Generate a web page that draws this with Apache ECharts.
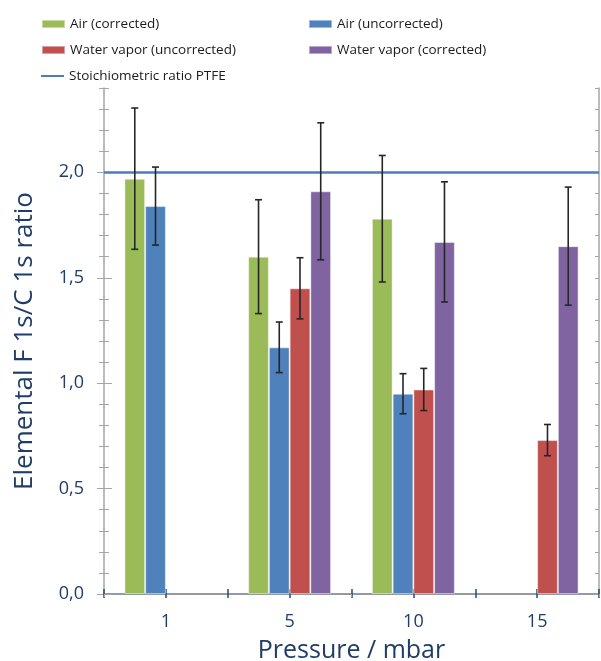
<!DOCTYPE html>
<html>
<head>
<meta charset="utf-8">
<script src="https://cdn.jsdelivr.net/npm/echarts@6/dist/echarts.min.js"></script>
<style>
  html, body { margin: 0; padding: 0; background: #ffffff; }
  #chart { width: 601px; height: 661px; }
</style>
</head>
<body>
<div id="chart"></div>
<script>
// Pressure categories (mbar)
const categories = ['1', '5', '10', '15'];

// F 1s / C 1s ratios and their error half-widths
const airCorrected        = [1.97, 1.60, 1.78, null];
const airCorrectedErr     = [0.335, 0.27, 0.30, null];
const airUncorrected      = [1.84, 1.17, 0.95, null];
const airUncorrectedErr   = [0.185, 0.12, 0.095, null];
const waterUncorrected    = [null, 1.45, 0.97, 0.73];
const waterUncorrectedErr = [null, 0.145, 0.10, 0.074];
const waterCorrected      = [null, 1.91, 1.67, 1.65];
const waterCorrectedErr   = [null, 0.325, 0.285, 0.28];

// Reference value for PTFE (CF2)
const stoichRatio = 2.0;

// Y-axis labelled ticks
const yLabelTicks = [0, 0.5, 1.0, 1.5, 2.0];

const seriesNames = ['Air (corrected)', 'Air (uncorrected)', 'Water vapor (uncorrected)', 'Water vapor (corrected)'];
const lineName = 'Stoichiometric ratio PTFE';
const seriesValues = [airCorrected, airUncorrected, waterUncorrected, waterCorrected];
const seriesErrors = [airCorrectedErr, airUncorrectedErr, waterUncorrectedErr, waterCorrectedErr];
const colors = ['#9bbb59', '#4f81bd', '#c0504d', '#8064a2'];

const textBlue = '#1f3d66';
const font = '"Open Sans", "Noto Sans", sans-serif';
const barCategoryGap = 0.33;

// Error bar records: [category index, series index, value, error]
const errorData = [];
seriesValues.forEach((vals, s) => {
  vals.forEach((v, i) => {
    if (v != null && seriesErrors[s][i] != null) errorData.push([i, s, v, seriesErrors[s][i]]);
  });
});

const chart = echarts.init(document.getElementById('chart'), null, { renderer: 'canvas' });

const legendItem = (name, left, top, itemHeight) => ({
  left: left, top: top, orient: 'horizontal',
  data: [{ name: name, icon: 'rect' }],
  itemWidth: 23, itemHeight: itemHeight, selectedMode: false,
  textStyle: { fontFamily: font, fontSize: 13.5, color: '#1a1a1a' }
});

const option = {
  animation: false,
  backgroundColor: '#ffffff',
  legend: [
    legendItem(seriesNames[0], 36, 12, 8),
    legendItem(seriesNames[1], 303, 12, 8),
    legendItem(seriesNames[2], 36, 38, 8),
    legendItem(seriesNames[3], 303, 38, 8),
    legendItem(lineName, 36, 64, 2)
  ],
  grid: { left: 104, right: 2, top: 88, bottom: 67, containLabel: false,
          outerBoundsMode: 'none', show: false },
  xAxis: [
    {
      type: 'category', data: categories, position: 'bottom',
      axisLine: { show: true, lineStyle: { color: '#1f4e79', width: 1.5 } },
      axisTick: { show: false },
      axisLabel: { color: textBlue, fontFamily: font, fontSize: 18, margin: 19 },
      name: 'Pressure / mbar', nameLocation: 'middle', nameGap: 44,
      nameTextStyle: { color: textBlue, fontFamily: font, fontSize: 25 }
    },
    // half-category ticks crossing the bottom axis
    {
      type: 'category', data: ['', '', '', '', '', '', '', ''], position: 'bottom',
      axisLine: { show: false }, axisLabel: { show: false },
      axisTick: { show: true, length: 4, lineStyle: { color: '#1f4e79', width: 1.5 } }
    },
    {
      type: 'category', data: ['', '', '', '', '', '', '', ''], position: 'bottom',
      axisLine: { show: false }, axisLabel: { show: false },
      axisTick: { show: true, inside: true, length: 5, lineStyle: { color: '#1f4e79', width: 1.5 } }
    },
    // top frame
    {
      type: 'category', data: ['', ''], position: 'top',
      axisLine: { show: true, lineStyle: { color: '#a6a6a6', width: 1.5 } },
      axisLabel: { show: false },
      axisTick: { show: true, inside: true, length: 3, lineStyle: { color: '#a6a6a6' } }
    }
  ],
  yAxis: [
    {
      type: 'value', min: 0, max: 2.4, interval: 0.1, position: 'left',
      splitLine: { show: false },
      axisLine: { show: true, lineStyle: { color: '#a6a6a6', width: 1.5 } },
      axisTick: { show: true, length: 5, lineStyle: { color: '#a6a6a6', width: 1 } },
      axisLabel: {
        customValues: yLabelTicks,
        color: textBlue, fontFamily: font, fontSize: 18, margin: 20,
        formatter: v => v.toFixed(1).replace('.', ',')
      },
      name: 'Elemental F 1s/C 1s ratio', nameLocation: 'middle', nameGap: 66,
      nameTextStyle: { color: textBlue, fontFamily: font, fontSize: 26 }
    },
    {
      type: 'value', min: 0, max: 2.4, interval: 0.1, position: 'left',
      splitLine: { show: false }, axisLine: { show: false }, axisLabel: { show: false },
      axisTick: { show: true, inside: true, length: 5, lineStyle: { color: '#a6a6a6', width: 1 } }
    },
    {
      type: 'value', min: 0, max: 2.4, interval: 0.1, position: 'left',
      splitLine: { show: false }, axisLine: { show: false }, axisLabel: { show: false },
      axisTick: { show: true, customValues: yLabelTicks, length: 7, lineStyle: { color: '#a6a6a6', width: 1 } }
    },
    {
      type: 'value', min: 0, max: 2.4, interval: 0.1, position: 'left',
      splitLine: { show: false }, axisLine: { show: false }, axisLabel: { show: false },
      axisTick: { show: true, inside: true, customValues: yLabelTicks, length: 8, lineStyle: { color: '#a6a6a6', width: 1 } }
    },
    // right frame
    {
      type: 'value', min: 0, max: 2.4, interval: 0.1, position: 'right',
      splitLine: { show: false },
      axisLine: { show: true, lineStyle: { color: '#a6a6a6', width: 1.5 } },
      axisLabel: { show: false },
      axisTick: { show: true, inside: true, length: 4, lineStyle: { color: '#a6a6a6', width: 1 } }
    }
  ],
  series: [
    ...seriesNames.map((name, s) => ({
      name: name, type: 'bar', xAxisIndex: 0, yAxisIndex: 0,
      data: seriesValues[s],
      barGap: '0%', barCategoryGap: (barCategoryGap * 100) + '%',
      itemStyle: { color: colors[s], borderColor: 'rgba(255,255,255,0.45)', borderWidth: 1 },
      z: 2
    })),
    {
      name: lineName, type: 'line', xAxisIndex: 0, yAxisIndex: 0,
      data: [], symbol: 'none',
      lineStyle: { color: '#4a7ebb', width: 2 },
      itemStyle: { color: '#4a7ebb' },
      markLine: {
        silent: true, symbol: ['none', 'none'],
        label: { show: false },
        lineStyle: { color: '#4a7ebb', width: 2.5, type: 'solid' },
        data: [{ yAxis: stoichRatio }]
      },
      z: 3
    },
    {
      type: 'custom', xAxisIndex: 0, yAxisIndex: 0,
      data: errorData,
      encode: { x: 0, y: 2 },
      z: 5, silent: true,
      renderItem: function (params, api) {
        const cat = api.value(0), s = api.value(1), v = api.value(2), e = api.value(3);
        const catWidth = api.size([1, 0])[0];
        const barW = catWidth * (1 - barCategoryGap) / seriesNames.length;
        const off = (s - (seriesNames.length - 1) / 2) * barW;
        const top = api.coord([cat, v + e]);
        const bot = api.coord([cat, v - e]);
        const x = top[0] + off;
        const cap = 3.5;
        const style = { stroke: '#262626', lineWidth: 1.6, fill: null };
        return {
          type: 'group',
          children: [
            { type: 'line', shape: { x1: x, y1: top[1], x2: x, y2: bot[1] }, style: style },
            { type: 'line', shape: { x1: x - cap, y1: top[1], x2: x + cap, y2: top[1] }, style: style },
            { type: 'line', shape: { x1: x - cap, y1: bot[1], x2: x + cap, y2: bot[1] }, style: style }
          ]
        };
      }
    }
  ]
};

chart.setOption(option);
</script>
</body>
</html>
